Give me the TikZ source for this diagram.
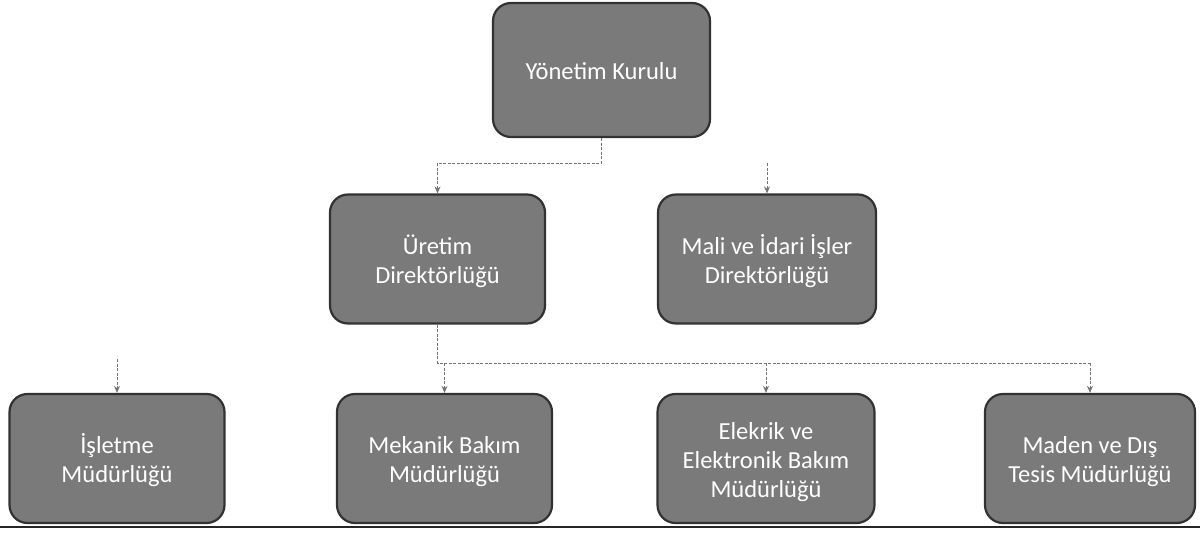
\documentclass[tikz,border=0pt]{standalone}
\usepackage{fontspec}
\setmainfont{Carlito}
\usetikzlibrary{arrows.meta,calc}
\definecolor{boxfill}{RGB}{122,122,122}
\definecolor{boxedge}{RGB}{50,50,50}
\definecolor{linkcol}{RGB}{115,115,115}
\newcommand{\boxtxt}[1]{\raisebox{-4pt}[\height][\depth]{\begin{tabular}{@{}c@{}}#1\end{tabular}}}
\tikzset{
  orgbox/.style={draw=boxedge, line width=2.2pt, fill=boxfill, rounded corners=18pt,
    minimum width=215pt, minimum height=129pt, inner sep=0pt, align=center,
    text=white, font=\fontsize{24.5}{29}\selectfont},
  link/.style={draw=linkcol, line width=0.9pt, dash pattern=on 3pt off 1.5pt,
    -{Stealth[length=7pt,width=6pt]}},
  plainlink/.style={draw=linkcol, line width=0.9pt, dash pattern=on 3pt off 1.5pt}
}
\begin{document}
\begin{tikzpicture}[x=1pt,y=-1pt]
\useasboundingbox (0,0) rectangle (1200,535);
\node[orgbox, minimum width=217pt, minimum height=134pt] (yk) at (601.5,70) {\boxtxt{Yönetim Kurulu}};
\node[orgbox] (ur) at (437.5,259) {\boxtxt{Üretim\\Direktörlüğü}};
\node[orgbox, minimum width=218pt] (mi) at (767,259) {\boxtxt{Mali ve İdari İşler\\Direktörlüğü}};
\node[orgbox] (is) at (117,458.5) {\boxtxt{İşletme\\Müdürlüğü}};
\node[orgbox] (mb) at (444.5,458.5) {\boxtxt{Mekanik Bakım\\Müdürlüğü}};
\node[orgbox, minimum width=217pt] (eb) at (766,458.5) {\boxtxt{Elekrik ve\\Elektronik Bakım\\Müdürlüğü}};
\node[orgbox, minimum width=210pt] (md) at (1090,458.5) {\boxtxt{Maden ve Dış\\Tesis Müdürlüğü}};
% junctions
\coordinate (j1) at (601.5,163);
\coordinate (j2) at (437.5,163);
\coordinate (mitop) at (767,163);
\coordinate (j3) at (437.5,363);
\coordinate (j4) at (1090,363);
\coordinate (istop) at (117,359);
\draw[plainlink] (yk.south) -- (j1) -- (j2);
\draw[link] (j2) -- (ur.north);
\draw[link] (mitop) -- (mi.north);
\draw[plainlink] (ur.south) -- (j3) -- (j4);
\draw[link] (j3 -| mb.north) -- (mb.north);
\draw[link] (j3 -| eb.north) -- (eb.north);
\draw[link] (j4) -- (md.north);
\draw[link] (istop) -- (is.north);
% bottom rule
\coordinate (rl) at (0,527);
\coordinate (rr) at (1200,527);
\draw[line width=2.2pt, black!85] (rl) -- (rr);
\end{tikzpicture}
\end{document}
